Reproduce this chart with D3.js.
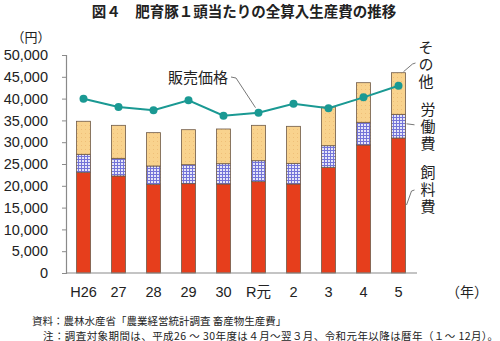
<!DOCTYPE html>
<html lang="ja">
<head>
<meta charset="UTF-8">
<title>肥育豚１頭当たりの全算入生産費の推移</title>
<script src="https://d3js.org/d3.v7.min.js"></script>
<style>
  body { margin: 0; background: #fff; }
  svg { display: block; font-family: "Liberation Sans", Arial, "Noto Sans CJK JP", sans-serif; }
  .jp { font-family: "Noto Sans CJK JP", sans-serif; }
  .vt { writing-mode: vertical-rl; letter-spacing: 2px; }
</style>
</head>
<body>
<div id="chart"></div>
<script>
// 年次と費目別の値（円）
const years = ["H26", "27", "28", "29", "30", "R元", "2", "3", "4", "5"];
const feed  = [23100, 22250, 20340, 20490, 20410, 20950, 20410, 24240, 29360, 30960];
const labor = [4120, 4050, 4200, 4350, 4660, 4810, 4740, 4960, 5200, 5430];
const other = [7580, 7570, 7650, 8030, 7960, 8110, 8490, 8870, 9090, 9550];
const price = [39980, 38070, 37310, 39600, 36080, 36770, 38830, 37770, 40290, 42960];
const yTicks = [0, 5000, 10000, 15000, 20000, 25000, 30000, 35000, 40000, 45000, 50000];

const W = 500, H = 341;
const svg = d3.select("#chart").append("svg").attr("width", W).attr("height", H);

// パターン：労働費は格子、その他は細かい点
const defs = svg.append("defs");
const grid = defs.append("pattern").attr("id", "grid")
  .attr("patternUnits", "userSpaceOnUse").attr("width", 3).attr("height", 3);
grid.append("rect").attr("width", 3).attr("height", 3).attr("fill", "#e6e6f8");
grid.append("path").attr("d", "M0,0.5H3M0.5,0V3").attr("stroke", "#7474d8").attr("stroke-width", 1);
const dots = defs.append("pattern").attr("id", "dots")
  .attr("patternUnits", "userSpaceOnUse").attr("width", 4).attr("height", 4);
dots.append("rect").attr("width", 4).attr("height", 4).attr("fill", "#f9d38e");
dots.append("rect").attr("x", 1).attr("y", 1).attr("width", 1).attr("height", 1).attr("fill", "#efbf78");

const x = d3.scaleBand().domain(years).range([66, 416]).paddingInner(0.6).paddingOuter(0.3);
const y = d3.scaleLinear().domain([0, 50000]).range([273, 55]);

// 積み上げ
const rows = years.map((yr, i) => ({ year: yr, feed: feed[i], labor: labor[i], other: other[i] }));
const stack = d3.stack().keys(["feed", "labor", "other"])(rows);
const fills = { feed: "#e63e1c", labor: "url(#grid)", other: "url(#dots)" };

svg.append("g").selectAll("g").data(stack).join("g")
  .attr("fill", d => fills[d.key])
  .selectAll("rect").data(d => d).join("rect")
  .attr("x", d => x(d.data.year))
  .attr("width", x.bandwidth())
  .attr("y", d => y(d[1]))
  .attr("height", d => y(d[0]) - y(d[1]))
  .attr("stroke", "#6e5a48")
  .attr("stroke-width", 0.8);

// Y軸
const yAxis = svg.append("g").attr("transform", "translate(66,0)")
  .call(d3.axisLeft(y).tickValues(yTicks).tickSize(4).tickPadding(14)
    .tickFormat(d3.format(",")));
yAxis.select(".domain").attr("stroke", "#8a8a8a").attr("stroke-width", 1.2);
yAxis.selectAll(".tick line").attr("stroke", "#8a8a8a");
yAxis.selectAll("text").attr("font-size", 14.5).attr("fill", "#222")
  .attr("font-family", "'Liberation Sans', Arial, sans-serif");

// X軸
svg.append("line").attr("x1", 66).attr("x2", 417).attr("y1", y(0)).attr("y2", y(0))
  .attr("stroke", "#8a8a8a").attr("stroke-width", 1.2);
svg.append("g").selectAll("text").data(years).join("text")
  .attr("x", d => x(d) + x.bandwidth() / 2)
  .attr("y", 297)
  .attr("text-anchor", "middle")
  .attr("font-size", 14.5).attr("fill", "#222")
  .text(d => d);
svg.append("text").attr("class", "jp").attr("x", 467).attr("y", 297)
  .attr("text-anchor", "middle").attr("font-size", 14).attr("fill", "#222").text("（年）");

// 販売価格の折れ線
const cx = d => x(d) + x.bandwidth() / 2;
svg.append("path").datum(price)
  .attr("fill", "none").attr("stroke", "#1a9993").attr("stroke-width", 2)
  .attr("d", d3.line().x((d, i) => cx(years[i])).y(d => y(d)));
svg.append("g").selectAll("circle").data(price).join("circle")
  .attr("cx", (d, i) => cx(years[i])).attr("cy", d => y(d)).attr("r", 4)
  .attr("fill", "#1a9993");

// タイトル・単位
svg.append("text").attr("class", "jp").attr("x", 244).attr("y", 17)
  .attr("text-anchor", "middle").attr("font-size", 14.5).attr("font-weight", "bold")
  .attr("fill", "#222").text("図４　肥育豚１頭当たりの全算入生産費の推移");
svg.append("text").attr("class", "jp").attr("x", 31).attr("y", 42)
  .attr("text-anchor", "middle").attr("font-size", 13).attr("fill", "#222").text("（円）");

// 凡例ラベルと引き出し線
const lead = (pts) => svg.append("path").attr("d", d3.line()(pts))
  .attr("fill", "none").attr("stroke", "#555").attr("stroke-width", 0.8);

svg.append("text").attr("class", "jp").attr("x", 198).attr("y", 83)
  .attr("text-anchor", "middle").attr("font-size", 15).attr("fill", "#222").text("販売価格");
lead([[231, 77], [236, 78], [x("R元") + x.bandwidth() / 2 - 3, y(price[5]) - 5]]);

// 縦書きラベル
const vlabel = (txt, cxp, top) => svg.append("text").attr("class", "jp vt")
  .attr("x", cxp).attr("y", top)
  .attr("font-size", 15).attr("fill", "#222").text(txt);
const last = years.length - 1;
const barR = x(years[last]) + x.bandwidth();
vlabel("その他", 426, 40);
lead([[barR - 2, y(feed[last] + labor[last] + other[last]) - 1], [barR + 7, 64], [barR + 10, 63]]);
vlabel("労働費", 428, 102);
lead([[barR + 1, y(feed[last] + labor[last] * 0.6)], [barR + 9, y(feed[last] + labor[last] * 0.6) + 1]]);
vlabel("飼料費", 428, 165);
lead([[barR + 1, 205], [barR + 6, 191], [barR + 9, 190]]);

// 出典・注記
svg.append("text").attr("class", "jp").attr("x", 32).attr("y", 324.5)
  .attr("font-size", 10.5).attr("fill", "#222")
  .text("資料：農林水産省「農業経営統計調査 畜産物生産費」");
svg.append("text").attr("class", "jp").attr("x", 43).attr("y", 339.5)
  .attr("font-size", 10.5).attr("fill", "#222")
  .attr("textLength", 455).attr("lengthAdjust", "spacing")
  .text("注：調査対象期間は、平成26 ～ 30年度は４月～翌３月、令和元年以降は暦年（１～ 12月）。");
</script>
</body>
</html>
